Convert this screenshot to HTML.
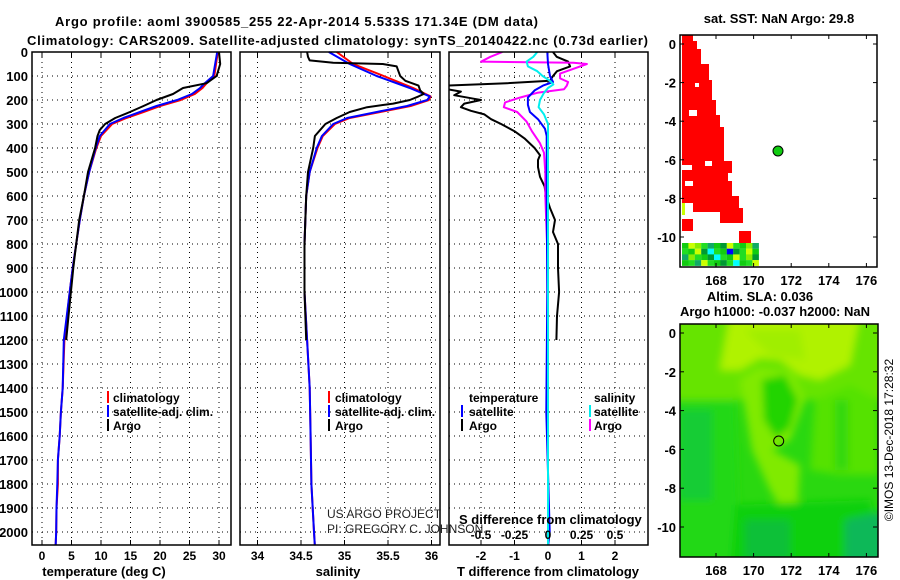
<!DOCTYPE html>
<html><head><meta charset="utf-8"><style>
html,body{margin:0;padding:0;background:#fff}
svg{display:block;font-family:"Liberation Sans",sans-serif}
.b{font-weight:bold;font-size:13px}
</style></head><body>
<svg id="s" width="900" height="580" viewBox="0 0 900 580" xmlns="http://www.w3.org/2000/svg">
<defs>
<clipPath id="c1"><rect x="32" y="35" width="199" height="510"/></clipPath>
<clipPath id="c2"><rect x="240" y="35" width="200" height="510"/></clipPath>
<clipPath id="c3"><rect x="449" y="52" width="199" height="493"/></clipPath>
<clipPath id="cm2"><rect x="680" y="324" width="198" height="233"/></clipPath>
<filter id="bl"><feGaussianBlur stdDeviation="4"/></filter>
</defs>
<text x="55" y="26" class="b" font-size="14" textLength="483">Argo profile: aoml 3900585_255 22-Apr-2014 5.533S 171.34E (DM data)</text>
<text x="27" y="45" class="b" font-size="14" textLength="621">Climatology: CARS2009. Satellite-adjusted climatology: synTS_20140422.nc (0.73d earlier)</text>
<g id="grid"></g>
<g id="marks"></g>
<g id="frames" fill="none" stroke="#000" stroke-width="1.5">
<rect x="32" y="52" width="199" height="493"/>
<rect x="240" y="52" width="200" height="493"/>
<rect x="449" y="52" width="199" height="493"/>
</g>
<g id="labels"></g>
<g class="b">
<rect x="107" y="391" width="2" height="12" fill="#f00"/><text x="113" y="402" font-size="12">climatology</text>
<rect x="107" y="405" width="2" height="12" fill="#00f"/><text x="113" y="416" font-size="12">satellite-adj. clim.</text>
<rect x="107" y="419" width="2" height="12" fill="#000"/><text x="113" y="430" font-size="12">Argo</text>
</g>
<g class="b">
<rect x="328" y="391" width="2" height="12" fill="#f00"/><text x="335" y="402" font-size="12">climatology</text>
<rect x="328" y="405" width="2" height="12" fill="#00f"/><text x="335" y="416" font-size="12">satellite-adj. clim.</text>
<rect x="328" y="419" width="2" height="12" fill="#000"/><text x="335" y="430" font-size="12">Argo</text>
</g>
<g class="b">
<text x="469" y="402" font-size="12">temperature</text>
<rect x="461" y="405" width="2" height="12" fill="#00f"/><text x="469" y="416" font-size="12">satellite</text>
<rect x="461" y="419" width="2" height="12" fill="#000"/><text x="469" y="430" font-size="12">Argo</text>
<text x="594" y="402" font-size="12">salinity</text>
<rect x="589" y="405" width="2" height="12" fill="#0ee"/><text x="594" y="416" font-size="12">satellite</text>
<rect x="589" y="419" width="2" height="12" fill="#f0f"/><text x="594" y="430" font-size="12">Argo</text>
</g>
<text x="327" y="518" font-size="12" fill="#222">US ARGO PROJECT</text>
<text x="327" y="533" font-size="12" fill="#222">PI: GREGORY C. JOHNSON</text>
<text x="459" y="524" class="b" font-size="12">S difference from climatology</text>
<text x="104" y="576" class="b" text-anchor="middle" font-size="12">temperature (deg C)</text>
<text x="338" y="576" class="b" text-anchor="middle" font-size="12">salinity</text>
<text x="548" y="576" class="b" text-anchor="middle" font-size="12">T difference from climatology</text>

<!-- Map 1 -->
<g>
<text x="779" y="23" class="b" text-anchor="middle" font-size="12">sat. SST: NaN Argo: 29.8</text>
<polygon fill="#f00" points="682,35 693,35 693,41 697,41 697,49 701,49 701,64 709,64 709,80 712,80 712,100 716,100 716,115 720,115 720,127 724,127 724,161 732,161 732,173 728,173 728,181 732,181 732,196 739,196 739,208 743,208 743,223 720,223 720,212 693,212 693,203 682,203"/>
<rect x="695" y="83" width="4" height="4" fill="#fff"/><rect x="689" y="110" width="8" height="6" fill="#fff"/><rect x="705" y="161" width="7" height="5" fill="#fff"/><rect x="682" y="165" width="10" height="5" fill="#fff"/><rect x="685" y="181" width="8" height="5" fill="#fff"/>
<rect x="682" y="203" width="3" height="12" fill="#cf0"/>
<rect x="682" y="219" width="11" height="12" fill="#f00"/>
<rect x="739" y="231" width="12" height="12" fill="#f00"/>
<g id="greenpatch"></g>
<circle cx="778" cy="151" r="5" fill="#1c1" stroke="#000" stroke-width="1"/>
<rect x="680" y="35" width="197" height="232" fill="none" stroke="#000" stroke-width="1.5"/>
</g>
<!-- Map 2 -->
<g>
<text x="760" y="301" class="b" text-anchor="middle" font-size="12">Altim. SLA: 0.036</text>
<text x="775" y="316" class="b" text-anchor="middle" font-size="12">Argo h1000: -0.037 h2000: NaN</text>
<g clip-path="url(#cm2)">
<rect x="680" y="324" width="198" height="233" fill="#2ad810"/>
<g filter="url(#bl)">
<polygon fill="#66e400" points="670,315 890,315 890,400 670,400"/>
<polygon fill="#b0f200" points="730,315 860,315 850,365 820,380 800,375 780,360 760,358 740,370 720,370"/>
<polygon fill="#a0ee00" points="745,330 800,330 805,360 770,355"/>
<polygon fill="#80ea00" points="740,380 758,368 792,372 805,400 790,440 772,450 800,465 798,505 785,515 770,490 752,450"/>
<polygon fill="#22d400" points="762,380 785,375 798,400 790,428 776,438 764,420"/>
<polygon fill="#55e200" points="815,400 850,385 878,400 878,475 840,475 810,470"/>
<polygon fill="#30d80a" points="835,400 848,400 848,470 835,470"/>
<polygon fill="#20d818" points="670,400 735,400 740,570 670,570"/>
<polygon fill="#14cc34" points="680,410 712,410 712,500 680,500"/>
<polygon fill="#10d010" points="735,505 870,500 890,570 730,570"/>
<polygon fill="#08c038" points="745,520 790,520 790,560 745,560"/>
<polygon fill="#10b858" points="845,520 890,510 890,570 845,570"/>
</g>
</g>
<circle cx="778.7" cy="441" r="5" fill="none" stroke="#000" stroke-width="1"/>
<rect x="680" y="324" width="198" height="233" fill="none" stroke="#000" stroke-width="1.5"/>
</g>
<text transform="translate(893,440) rotate(-90)" text-anchor="middle" font-size="12">©IMOS 13-Dec-2018 17:28:32</text>
</svg>
<script>
// ---- data ----
const depthArgo = [0,50,100,130,150,175,200,225,250,275,300,325,350,400,500,600,700,800,900,1000,1100,1200];
const tempArgo  = [30.0,30.2,29.6,27.9,23.9,22.2,19.4,17.2,14.9,12.4,10.7,9.8,9.4,9.0,7.8,7.1,6.3,5.8,5.3,4.9,4.5,4.1];
const depthClim = [0,100,130,150,175,200,225,250,275,300,350,400,500,600,700,800,900,1000,1200,1400,1500,1600,1700,1800,1900,2000,2060];
const tempSat   = [29.7,29.0,27.6,26.8,25.4,22.9,19.4,16.6,13.8,11.5,9.8,9.1,8.0,7.1,6.4,5.8,5.2,4.7,3.7,3.5,3.2,3.0,2.7,2.6,2.45,2.4,2.3];
const tempClim  = [29.8,29.2,27.9,27.2,25.9,23.5,20.0,17.2,14.3,11.9,10.0,9.2,8.0,7.1,6.4,5.8,5.2,4.7,3.8,3.5,3.2,3.0,2.7,2.7,2.45,2.4,2.3];
const salArgoDepth = [0,20,35,45,50,60,80,100,120,140,160,175,185,200,215,230,250,275,300,350,400,500,600,800,1000,1200];
const salArgo   = [34.57,34.58,34.60,34.87,35.44,35.60,35.62,35.64,35.70,35.85,35.87,35.91,35.85,35.75,35.56,35.26,35.06,34.91,34.78,34.66,34.64,34.58,34.56,34.54,34.54,34.56];
const salDepth  = [0,50,100,150,185,200,225,250,275,300,350,400,500,600,800,1000,1200,1400,1600,1800,2000,2060];
const salSat    = [34.82,35.06,35.37,35.75,35.98,35.95,35.72,35.37,35.03,34.87,34.74,34.68,34.60,34.56,34.54,34.54,34.57,34.60,34.61,34.62,34.65,34.66];
const salClim   = [34.91,35.10,35.45,35.79,35.99,35.97,35.76,35.41,35.06,34.89,34.75,34.69,34.60,34.56,34.54,34.54,34.57,34.60,34.61,34.62,34.65,34.66];
const tdDepth   = [0,20,40,60,80,100,120,130,140,155,165,180,195,200,215,230,245,260,280,300,330,360,400,430,450,480,520,560,600,650,700,750,800,900,1000,1100,1200];
const tdArgo    = [0.15,0.26,0.6,0.66,0.27,0.15,0.06,-1.23,-3.0,-3.0,-2.6,-2.8,-2.2,-2.0,-2.5,-2.6,-2.3,-1.9,-1.7,-1.4,-1.0,-0.7,-0.4,-0.24,-0.3,-0.3,-0.24,-0.1,-0.06,0.06,0.21,0.15,0.3,0.3,0.33,0.27,0.25];
const tdSatDepth= [0,50,100,125,140,160,190,220,250,280,320,350,600,1000,1500,2000,2060];
const tdSat     = [-0.02,0,0.06,0.15,-0.15,-0.4,-0.6,-0.6,-0.54,-0.3,-0.09,-0.04,-0.04,-0.02,-0.05,0.05,0.0];
const sdSatDepth= [0,20,40,60,80,100,120,135,150,170,200,230,260,300,350,1000,2060];
const sdSat     = [-0.08,-0.11,-0.16,-0.15,-0.08,-0.04,0.015,0.04,0,-0.03,-0.06,-0.07,-0.03,0,0,0,0];
const sdArgoDepth=[0,20,40,45,50,70,90,110,125,140,155,170,190,210,230,250,290,330,380,420,500,600,900,1200];
const sdArgo    = [-0.34,-0.43,-0.5,0.19,0.29,0.19,0.09,0.09,0.15,0.14,0.12,-0.08,-0.21,-0.32,-0.33,-0.23,-0.16,-0.12,-0.06,-0.03,-0.02,-0.02,0,0];
const depthTicks= [0,100,200,300,400,500,600,700,800,900,1000,1100,1200,1300,1400,1500,1600,1700,1800,1900,2000];
const tempTicks = [0,5,10,15,20,25,30];
const salTicks  = [34,34.5,35,35.5,36];
const tdTicks   = [-2,-1,0,1,2];
const sdTickLabels = ["-0.5","-0.25","0","0.25","0.5"];
const sdTicks   = [-0.5,-0.25,0,0.25,0.5];

// ---- axes ----
const yD = d => 52 + 0.24*d;
const xT = t => 42 + t*5.9;
const xS = s => 257.5 + (s-34)*87;
const xTD = t => 548 + t*33.5;
const xSD = s => 548 + s*134;
const NS = "http://www.w3.org/2000/svg";
function mk(tag, attrs, parent){const e=document.createElementNS(NS,tag);for(const k in attrs)e.setAttribute(k,attrs[k]);parent.appendChild(e);return e;}
const grid = document.getElementById('grid'), marks = document.getElementById('marks'), labels = document.getElementById('labels');
const panels = [[32,231],[240,440],[449,648]];
depthTicks.forEach(d=>{
  panels.forEach(p=>{
    const l = mk('line',{x1:p[0],x2:p[1],y1:yD(d),y2:yD(d),stroke:'#000','stroke-width':1,'stroke-dasharray':'1,4'},grid);
    
    
  });
  const t = mk('text',{x:28,y:yD(d)+5,'text-anchor':'end','font-size':13,'font-weight':'bold'},labels);
  t.textContent = d;
  
  
});
function vgrid(ticks, fx, top, label, ly){
  ticks.forEach(v=>{
    const l = mk('line',{x1:fx(v),x2:fx(v),y1:52,y2:545,stroke:'#000','stroke-width':1,'stroke-dasharray':'1,4'},grid);
    
    
    mk('line',{x1:fx(v),x2:fx(v),y1:52,y2:57,stroke:'#000'},grid);
    mk('line',{x1:fx(v),x2:fx(v),y1:540,y2:545,stroke:'#000'},grid);
    if(label){
      const t = mk('text',{x:fx(v),y:ly,'text-anchor':'middle','font-size':12,'font-weight':'bold'},labels);
      t.textContent = v;
      
      
    }
  });
}
vgrid(tempTicks,xT,true,true,560);
vgrid(salTicks,xS,true,true,560);
vgrid(tdTicks,xTD,true,true,560);
sdTicks.forEach((v,i)=>{
  const t = mk('text',{x:xSD(v),y:539,'text-anchor':'middle','font-size':12,'font-weight':'bold'},labels);
  t.textContent = sdTickLabels[i];
  
  
});
function line(depths, vals, fx, color, clip, name){
  const pts = depths.map((d,i)=>fx(vals[i]).toFixed(1)+','+yD(d).toFixed(1)).join(' ');
  const p = mk('polyline',{points:pts,fill:'none',stroke:color,'stroke-width':2,'clip-path':'url(#'+clip+')','stroke-linejoin':'round'},marks);
  
  
}
line(depthClim,tempClim,xT,'#f00','c1','temp-climatology-line');
line(depthClim,tempSat,xT,'#00f','c1','temp-satellite-line');
line(depthArgo,tempArgo,xT,'#000','c1','temp-argo-line');
line(salDepth,salClim,xS,'#f00','c2','sal-climatology-line');
line(salDepth,salSat,xS,'#00f','c2','sal-satellite-line');
line(salArgoDepth,salArgo,xS,'#000','c2','sal-argo-line');
line(tdDepth,tdArgo,xTD,'#000','c3','tdiff-argo-line');
line(sdArgoDepth,sdArgo,xSD,'#f0f','c3','sdiff-argo-line');
line(tdSatDepth,tdSat,xTD,'#00f','c3','tdiff-satellite-line');
line(sdSatDepth,sdSat,xSD,'#0ee','c3','sdiff-satellite-line');

// map axes
const lonTicks=[168,170,172,174,176], latTicks=[0,-2,-4,-6,-8,-10];
const xLon = l => 716 + (l-168)*18.8;
const yLat1 = l => 44 - l*19.3;
const yLat2 = l => 333 - l*19.4;
const mg = document.getElementById('s');
lonTicks.forEach(l=>{
  [[35,267,285],[324,557,575]].forEach(m=>{
    mk('line',{x1:xLon(l),x2:xLon(l),y1:m[0],y2:m[0]+4,stroke:'#000'},mg);
    mk('line',{x1:xLon(l),x2:xLon(l),y1:m[1]-4,y2:m[1],stroke:'#000'},mg);
    const t = mk('text',{x:xLon(l),y:m[2],'text-anchor':'middle','font-size':13,'font-weight':'bold'},mg);
    t.textContent = l;
    
    
  });
});
latTicks.forEach(l=>{
  [[yLat1(l)],[yLat2(l)]].forEach(m=>{
    mk('line',{x1:680,x2:684,y1:m[0],y2:m[0],stroke:'#000'},mg);
    mk('line',{x1:873,x2:877,y1:m[0],y2:m[0],stroke:'#000'},mg);
    const t = mk('text',{x:676,y:m[0]+5,'text-anchor':'end','font-size':13,'font-weight':'bold'},mg);
    t.textContent = l;
    
    
  });
});
// green patch cells
const gp = document.getElementById('greenpatch');
const pal=['#1c1','#2d2','#093','#cf0','#8e0','#0ff','#00f','#1a6'];
const seq=[0,3,4,1,7,0,2,3,1,0,4,7,1,0,3,2,5,1,0,6,2,1,3,0,7,4,1,0,2,5,1,0,3,1,4,2,0,1,7,3,1,0,2,1,5,0,1,3];
for(let r=0;r<4;r++)for(let c=0;c<12;c++){
  mk('rect',{x:682+c*6.4,y:243+r*5.7,width:6.5,height:5.8,fill:pal[seq[(r*12+c)%seq.length]]},gp);
}
</script>
</body></html>
